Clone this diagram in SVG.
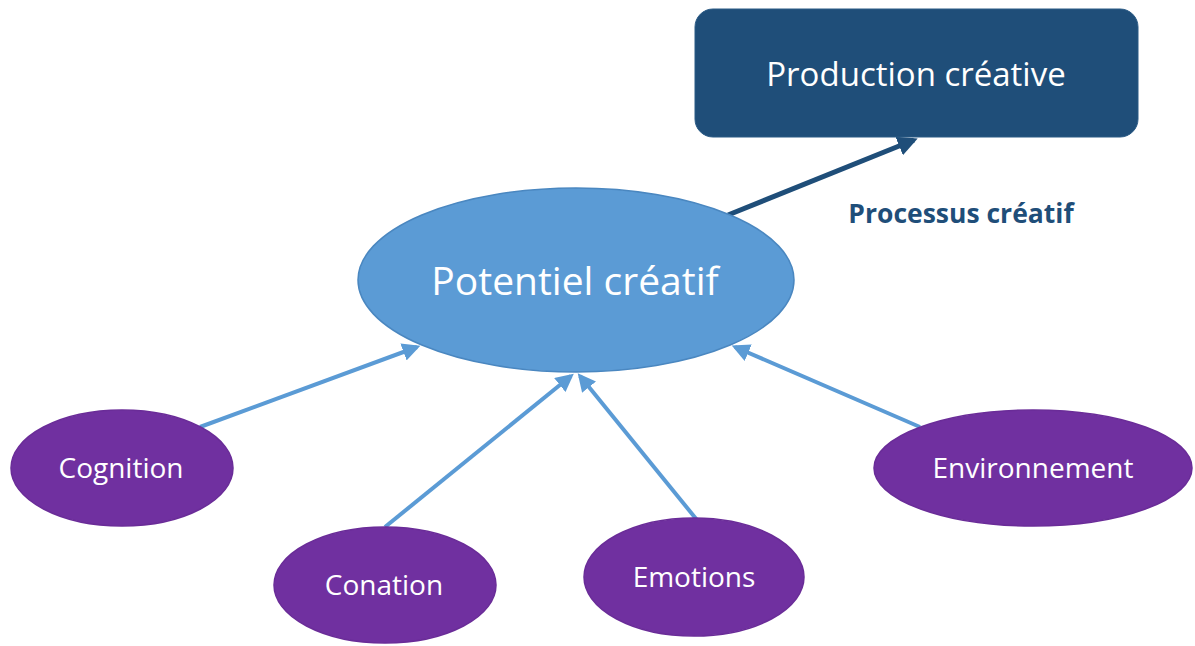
<svg xmlns="http://www.w3.org/2000/svg" width="1195" height="646" viewBox="0 0 1195 646">
<style>
.lbl{font-family:"Open Sans","Noto Sans","Liberation Sans",sans-serif;fill:#ffffff;text-anchor:middle}
.purple{fill:#7030a0;stroke:#6a2c98;stroke-width:1.5}
.conn{stroke:#5b9bd5;stroke-width:4;fill:none;marker-end:url(#ah)}
</style>
<defs>
<marker id="ah" viewBox="0 0 10 10" refX="8" refY="5" markerWidth="4.5" markerHeight="4.5" orient="auto" markerUnits="strokeWidth">
<path d="M0,0 L10,5 L0,10 Z" fill="#5b9bd5"/>
</marker>
<marker id="ahd" viewBox="0 0 10 10" refX="8" refY="5" markerWidth="4" markerHeight="4" orient="auto" markerUnits="strokeWidth">
<path d="M0,0 L10,5 L0,10 Z" fill="#1f4e79"/>
</marker>
</defs>
<rect width="1195" height="646" fill="#ffffff"/>
<g id="connectors">
<line class="conn" x1="200" y1="427" x2="417" y2="347"/>
<line class="conn" x1="385" y1="527" x2="571" y2="376"/>
<line class="conn" x1="697" y1="520" x2="580" y2="376"/>
<line class="conn" x1="920" y1="427" x2="735" y2="347"/>
<line x1="728" y1="215" x2="914" y2="140" stroke="#1f4e79" stroke-width="5" marker-end="url(#ahd)"/>
</g>
<g id="production">
<rect x="695" y="9" width="443" height="128" rx="18" fill="#1f4e79" stroke="#2a5a85" stroke-width="1"/>
<text class="lbl" x="916" y="86" font-size="33">Production créative</text>
</g>
<g id="processus">
<text x="961" y="223" font-family="'Open Sans','Noto Sans','Liberation Sans',sans-serif" font-weight="bold" font-size="26.5" fill="#1f4e79" text-anchor="middle">Processus créatif</text>
</g>
<g id="potentiel">
<ellipse cx="576" cy="280" rx="218" ry="92" fill="#5b9bd5" stroke="#4a87c0" stroke-width="1.5"/>
<text class="lbl" x="575" y="295" font-size="39">Potentiel créatif</text>
</g>
<g id="cognition">
<ellipse class="purple" cx="122" cy="468" rx="111" ry="58"/>
<text class="lbl" x="121" y="478" font-size="28">Cognition</text>
</g>
<g id="conation">
<ellipse class="purple" cx="385" cy="585" rx="111" ry="58"/>
<text class="lbl" x="384" y="595" font-size="28">Conation</text>
</g>
<g id="emotions">
<ellipse class="purple" cx="694" cy="577" rx="110" ry="59"/>
<text class="lbl" x="694" y="587" font-size="28">Emotions</text>
</g>
<g id="environnement">
<ellipse class="purple" cx="1033" cy="468" rx="159" ry="58"/>
<text class="lbl" x="1033" y="478" font-size="28">Environnement</text>
</g>
</svg>
